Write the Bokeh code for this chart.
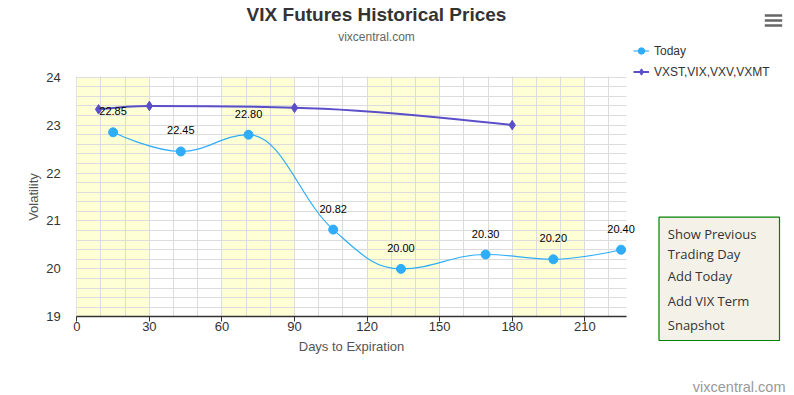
from bokeh.plotting import figure
from bokeh.models import (Range1d, SingleIntervalTicker, Label, BoxAnnotation,
                          Legend, LegendItem, CDSView, IndexFilter, ColumnDataSource)
from bokeh.core.properties import value
from bokeh.embed import file_html
from bokeh.resources import INLINE

# ---------------- data ----------------
today_days = [15, 43, 71, 106, 134, 169, 197, 225]
today_vals = [22.85, 22.45, 22.80, 20.82, 20.00, 20.30, 20.20, 20.40]
term_days = [9, 30, 90, 180]
term_vals = [23.33, 23.40, 23.36, 23.00]
band_start = [0, 60, 120, 180]
band_end = [30, 90, 150, 210]
x_tick_step = 30
x_grid_step = 10
y_tick_step = 1
y_grid_step = 0.2
x_min, x_max = 0, 227.2
y_min, y_max = 19, 24
menu_items = ["Show Previous", "Trading Day", "Add Today", "Add VIX Term", "Snapshot"]

BLUE = "#2fadf8"
PURPLE = "#5a4fc8"
FONT = "Liberation Sans"

# ---------------- geometry (pixels) ----------------
W, H = 794, 395
PX0, PY_TOP, PY_BOT = 76.3, 76.7, 316.3       # plot area in the canvas
PX_PER_DAY = 2.419
PX_PER_UNIT = (PY_BOT - PY_TOP) / (y_max - y_min)


def spline(xs, ys, smoothing=1.5):
    """Highcharts-style spline control points (affine invariant)."""
    n = len(xs)
    denom = smoothing + 1
    lc = [(x, y) for x, y in zip(xs, ys)]
    rc = [(x, y) for x, y in zip(xs, ys)]
    for i in range(1, n - 1):
        px, py = xs[i], ys[i]
        lx, ly = xs[i - 1], ys[i - 1]
        nx, ny = xs[i + 1], ys[i + 1]
        lcx = (smoothing * px + lx) / denom
        lcy = (smoothing * py + ly) / denom
        rcx = (smoothing * px + nx) / denom
        rcy = (smoothing * py + ny) / denom
        corr = (rcy - lcy) * (rcx - px) / (rcx - lcx) + py - rcy
        lcy += corr
        rcy += corr
        if lcy > ly and lcy > py:
            lcy = max(ly, py)
            rcy = 2 * py - lcy
        elif lcy < ly and lcy < py:
            lcy = min(ly, py)
            rcy = 2 * py - lcy
        if rcy > ny and rcy > py:
            rcy = max(ny, py)
            lcy = 2 * py - rcy
        elif rcy < ny and rcy < py:
            rcy = min(ny, py)
            lcy = 2 * py - rcy
        lc[i] = (lcx, lcy)
        rc[i] = (rcx, rcy)
    seg = dict(x0=[], y0=[], x1=[], y1=[], cx0=[], cy0=[], cx1=[], cy1=[])
    for i in range(n - 1):
        seg["x0"].append(xs[i]); seg["y0"].append(ys[i])
        seg["x1"].append(xs[i + 1]); seg["y1"].append(ys[i + 1])
        seg["cx0"].append(rc[i][0]); seg["cy0"].append(rc[i][1])
        seg["cx1"].append(lc[i + 1][0]); seg["cy1"].append(lc[i + 1][1])
    return seg


# frame covers the whole canvas; axes are pinned with fixed_location
xr = Range1d(-PX0 / PX_PER_DAY, (W - PX0) / PX_PER_DAY)
yr = Range1d(y_min - (H - PY_BOT) / PX_PER_UNIT, y_max + PY_TOP / PX_PER_UNIT)
p = figure(width=W, height=H, output_backend="svg", toolbar_location=None,
           x_range=xr, y_range=yr, min_border=0,
           background_fill_color="white", border_fill_color="white")
p.outline_line_color = None

# plot bands
p.quad(left=band_start, right=band_end, bottom=y_min, top=y_max,
       fill_color="#ffffd6", line_color=None, level="image")

# grids
p.xgrid.ticker = SingleIntervalTicker(interval=x_grid_step)
p.ygrid.ticker = SingleIntervalTicker(interval=y_grid_step)
p.xgrid.grid_line_color = "#dcdcdc"
p.ygrid.grid_line_color = "#dcdcdc"
p.xgrid.bounds = (x_min, x_max)
p.ygrid.bounds = (y_min, y_max)

# white masks outside the plot area (hide grid overflow)
eps_x = 0.6 / PX_PER_DAY
eps_y = 0.6 / PX_PER_UNIT
for kw in (dict(bottom=y_max + eps_y), dict(top=y_min), dict(right=x_min - eps_x),
           dict(left=x_max)):
    p.add_layout(BoxAnnotation(fill_color="white", fill_alpha=1, line_color=None,
                               level="underlay", **kw))

# axes
p.xaxis.ticker = SingleIntervalTicker(interval=x_tick_step)
p.yaxis.ticker = SingleIntervalTicker(interval=y_tick_step)
p.xaxis.fixed_location = y_min
p.yaxis.fixed_location = x_min
p.xaxis.bounds = (x_min, x_max)
p.yaxis.bounds = (y_min, y_max)
for ax in (p.xaxis, p.yaxis):
    ax.minor_tick_line_color = None
    ax.major_label_text_font = FONT
    ax.major_label_text_font_size = "13px"
    ax.major_label_text_color = "#333333"
    ax.axis_label_text_font = FONT
    ax.axis_label_text_font_size = "13px"
    ax.axis_label_text_font_style = "normal"
    ax.axis_label_text_color = "#555555"
p.xaxis.axis_label = "Days to Expiration"
p.yaxis.axis_label = "Volatility"
p.xaxis.axis_line_color = "#333333"
p.xaxis.axis_line_width = 1.5
p.xaxis.major_tick_line_color = "#333333"
p.xaxis.major_tick_in = 0
p.xaxis.major_tick_out = 5
p.xaxis.major_label_standoff = 0
p.xaxis.axis_label_standoff = 5
p.yaxis.axis_line_color = None
p.yaxis.major_tick_line_color = None
p.yaxis.major_tick_in = 0
p.yaxis.major_tick_out = 0
p.yaxis.major_label_standoff = 12
p.yaxis.axis_label_standoff = 2

# series
ts = spline(term_days, term_vals)
tbz = p.bezier(line_color=PURPLE, line_width=2, **ts)
tsrc = ColumnDataSource(data=dict(x=term_days, y=term_vals))
tln = p.line("x", "y", source=tsrc, line_color=PURPLE, line_width=2,
             view=CDSView(filter=IndexFilter(indices=[])))
tsc = p.scatter("x", "y", source=tsrc, marker="diamond", size=9.5,
                fill_color=PURPLE, line_color=PURPLE)

ds = spline(today_days, today_vals)
dbz = p.bezier(line_color=BLUE, line_width=1.2, **ds)
dsrc = ColumnDataSource(data=dict(x=today_days, y=today_vals,
                                  lab=[f"{v:.2f}" for v in today_vals]))
dln = p.line("x", "y", source=dsrc, line_color=BLUE, line_width=1.5,
             view=CDSView(filter=IndexFilter(indices=[])))
dsc = p.scatter("x", "y", source=dsrc, marker="circle", size=9,
                fill_color=BLUE, line_color=BLUE)

p.text(x="x", y="y", text="lab", source=dsrc,
       text_align="center", text_baseline="middle", y_offset=-21,
       text_font=value(FONT), text_font_size="11px", text_color="#000000")

# legend
legend = Legend(items=[LegendItem(label="Today", renderers=[dbz, dln, dsc]),
                       LegendItem(label="VXST,VIX,VXV,VXMT", renderers=[tbz, tln, tsc])],
                location=(633, H - 82), padding=0, margin=0, spacing=0,
                glyph_width=16, glyph_height=21, label_height=21,
                label_standoff=5, label_text_font=FONT,
                label_text_font_size="12px", label_text_color="#333333",
                background_fill_alpha=0, border_line_color=None)
p.add_layout(legend)

# titles
p.add_layout(Label(x=376, y=14, x_units="canvas", y_units="canvas",
                   text="VIX Futures Historical Prices", text_align="center",
                   text_baseline="middle", text_font=FONT, text_font_size="19px",
                   text_font_style="bold", text_color="#333333"))
p.add_layout(Label(x=376, y=36, x_units="canvas", y_units="canvas",
                   text="vixcentral.com", text_align="center",
                   text_baseline="middle", text_font=FONT, text_font_size="12px",
                   text_color="#666666"))

# hamburger menu
for yc in (15, 20, 25):
    p.add_layout(BoxAnnotation(left=764.3, right=781.7, top=yc - 1.3, bottom=yc + 1.3,
                               left_units="canvas", right_units="canvas",
                               top_units="canvas", bottom_units="canvas",
                               fill_color="#666666", fill_alpha=1, line_color=None))

# button box
p.add_layout(BoxAnnotation(left=658.5, right=779, top=216.7, bottom=340,
                           left_units="canvas", right_units="canvas",
                           top_units="canvas", bottom_units="canvas",
                           fill_color="#f4f2e8", fill_alpha=1,
                           line_color="#008000", line_width=1.2, line_alpha=1))
for txt, yc in zip(menu_items, (233.5, 253, 275, 300, 324)):
    p.add_layout(Label(x=667.3, y=yc, x_units="canvas", y_units="canvas",
                       text=txt, text_align="left", text_baseline="middle",
                       text_font="Open Sans", text_font_size="13px",
                       text_color="#333333"))

# watermark
p.add_layout(Label(x=785, y=386, x_units="canvas", y_units="canvas",
                   text="vixcentral.com", text_align="right",
                   text_baseline="middle", text_font=FONT, text_font_size="14.5px",
                   text_color="#999999"))

open("out.html", "w").write(file_html(p, INLINE))
